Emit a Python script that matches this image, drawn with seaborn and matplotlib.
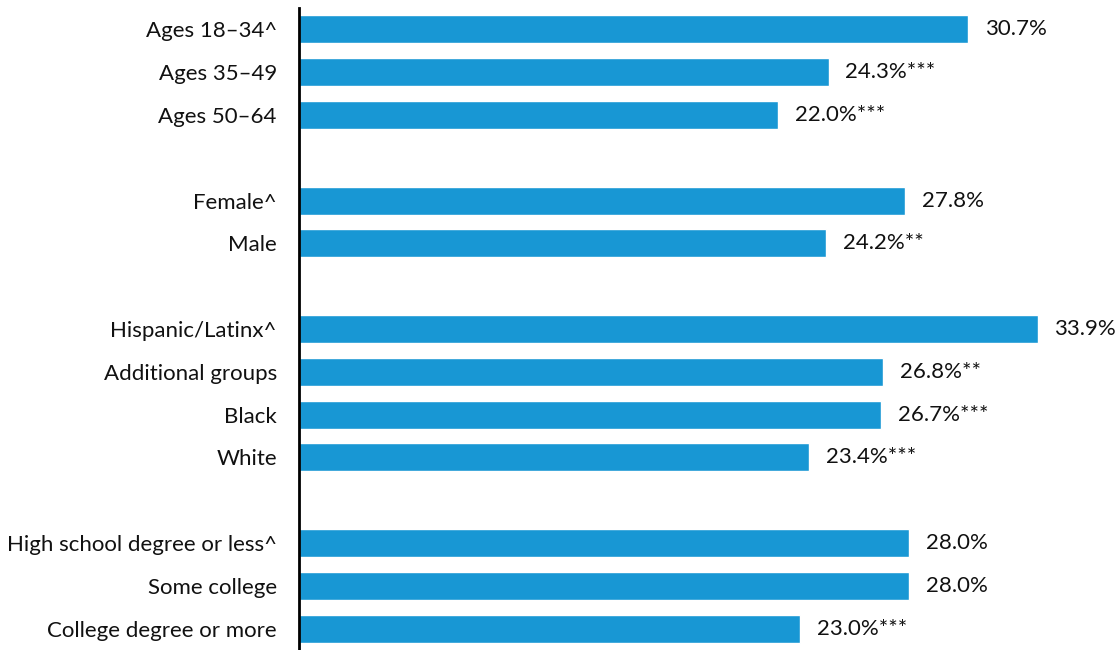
import pandas as pd
import matplotlib
matplotlib.use("Agg")
import matplotlib.pyplot as plt
import seaborn as sns

# --- data ---
labels = ["Ages 18\u201334^", "Ages 35\u201349", "Ages 50\u201364",
          "Female^", "Male",
          "Hispanic/Latinx^", "Additional groups", "Black", "White",
          "High school degree or less^", "Some college", "College degree or more"]
values = [30.7, 24.3, 22.0,
          27.8, 24.2,
          33.9, 26.8, 26.7, 23.4,
          28.0, 28.0, 23.0]
stars = ["", "***", "***",
         "", "**",
         "", "**", "***", "***",
         "", "", "***"]
group_sizes = [3, 2, 4, 3]

df = pd.DataFrame({"label": labels, "value": values, "stars": stars})

# category order with blank spacer rows between groups
order = []
i = 0
for g, n in enumerate(group_sizes):
    order += labels[i:i + n]
    i += n
    if g < len(group_sizes) - 1:
        order.append(" " * (g + 1))

sns.set_theme(style="white")
plt.rcParams["font.family"] = ["Lato", "DejaVu Sans"]

fig = plt.figure(figsize=(11.2, 6.5), dpi=100)
ax = fig.add_axes([0.267, 0.0, 0.681, 0.9877])

sns.barplot(data=df, y="label", x="value", order=order, color="#1897d4",
            saturation=1, width=0.65, orient="h", ax=ax)

ax.set_xlim(0, 35)
ax.set_ylim(len(order) - 0.5, -0.5)
ax.set_xlabel("")
ax.set_ylabel("")
ax.set_xticks([])
ax.tick_params(axis="y", length=0, pad=16, labelsize=16, labelcolor="#111111")
for s in ["top", "right", "bottom"]:
    ax.spines[s].set_visible(False)
ax.spines["left"].set_color("black")
ax.spines["left"].set_linewidth(2)

pos = {lab: k for k, lab in enumerate(order)}
for lab, v, st in zip(labels, values, stars):
    ax.annotate(f"{v:.1f}%{st}", xy=(v, pos[lab]), xytext=(12, 0),
                textcoords="offset points", va="center", ha="left",
                fontsize=16, color="#111111", annotation_clip=False)

fig.savefig("out.png", dpi=100)
